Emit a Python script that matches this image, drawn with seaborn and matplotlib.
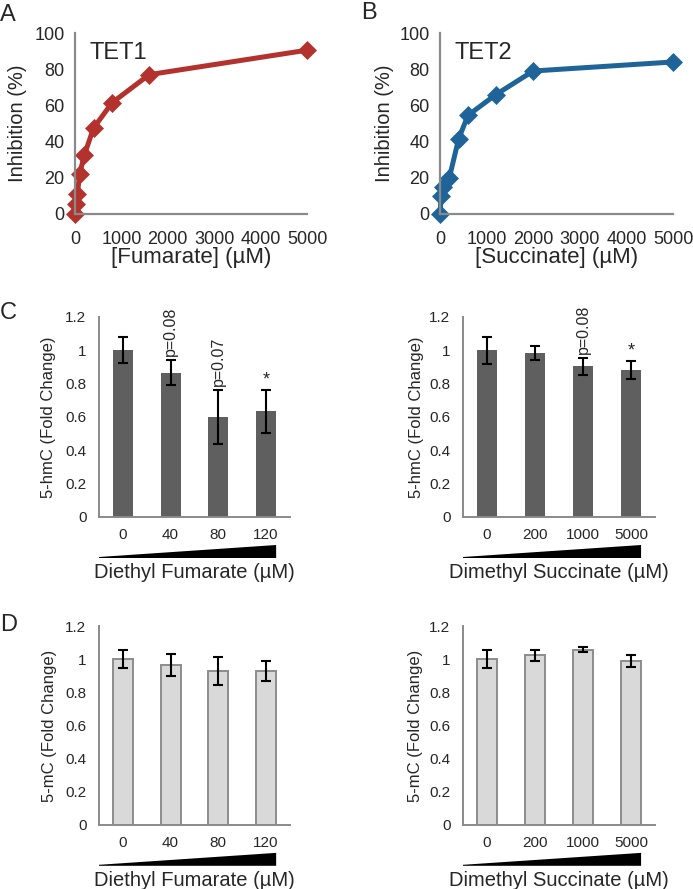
import numpy as np
import pandas as pd
import matplotlib
matplotlib.use("Agg")
import matplotlib.pyplot as plt
import seaborn as sns
from matplotlib.transforms import blended_transform_factory

# ---------------- data ----------------
fumarate_conc = [0, 25, 50, 100, 200, 400, 800, 1600, 5000]
tet1_inhibition = [0, 5.5, 11, 22, 32.5, 47.5, 61.5, 77, 90.5]
succinate_conc = [0, 25, 75, 200, 400, 600, 1200, 2000, 5000]
tet2_inhibition = [0, 10, 15, 20, 41.5, 54.5, 66, 79, 84]

curve_xticks = [0, 1000, 2000, 3000, 4000, 5000]
curve_yticks = [0, 20, 40, 60, 80, 100]

fum_doses = ["0", "40", "80", "120"]
suc_doses = ["0", "200", "1000", "5000"]

c_fum_mean = [1.0, 0.866, 0.598, 0.634]
c_fum_err = [0.078, 0.076, 0.162, 0.129]
c_fum_notes = ["", "p=0.08", "p=0.07", "*"]

c_suc_mean = [1.0, 0.984, 0.904, 0.880]
c_suc_err = [0.080, 0.040, 0.050, 0.054]
c_suc_notes = ["", "", "p=0.08", "*"]

d_fum_mean = [1.0, 0.964, 0.928, 0.928]
d_fum_err = [0.055, 0.067, 0.085, 0.062]

d_suc_mean = [1.0, 1.024, 1.058, 0.990]
d_suc_err = [0.055, 0.034, 0.013, 0.036]

bar_yticks = [0, 0.2, 0.4, 0.6, 0.8, 1.0, 1.2]
bar_yticklabels = ["0", "0.2", "0.4", "0.6", "0.8", "1", "1.2"]

# ---------------- style ----------------
sns.set_style("white")
plt.rcParams["font.family"] = ["Liberation Sans", "DejaVu Sans"]

W, H = 693, 889
fig = plt.figure(figsize=(W / 100, H / 100), dpi=100)
AX_GRAY = "#8a8a8a"


def px_axes(left, top, right, bottom):
    return fig.add_axes([left / W, 1 - bottom / H, (right - left) / W, (bottom - top) / H])


def curve_panel(ax, x, y, color, xlabel, name, ylab_x):
    sns.lineplot(x=x, y=y, ax=ax, color=color, linewidth=3.6, marker="D",
                 markersize=9.5, markeredgecolor=color, markeredgewidth=0.5,
                 estimator=None, sort=False, clip_on=False)
    ax.set_xlim(0, 5000)
    ax.set_ylim(0, 100)
    ax.set_xticks(curve_xticks)
    ax.set_yticks(curve_yticks)
    for s in ["top", "right"]:
        ax.spines[s].set_visible(False)
    for s in ["left", "bottom"]:
        ax.spines[s].set_color(AX_GRAY)
        ax.spines[s].set_linewidth(1.6)
    ax.tick_params(direction="inout", length=9, width=1.6, color=AX_GRAY,
                   labelsize=13, pad=3)
    ax.tick_params(axis="x", pad=8)
    ax.set_xlabel(xlabel, fontsize=16)
    ax.set_ylabel("Inhibition (%)", fontsize=14.5)
    ax.xaxis.set_label_coords(0.5, -0.24)
    ax.xaxis.label.set_va("center")
    ax.yaxis.set_label_coords(ylab_x, 0.5)
    ax.yaxis.label.set_va("center")
    ax.text(320, 89, name, fontsize=17, ha="left", va="center")


def bar_panel(ax, cats, means, errs, notes, fc, ec, lw, ylabel, xlabel, ylab_x):
    df = pd.DataFrame({"dose": cats, "value": means})
    sns.barplot(data=df, x="dose", y="value", order=cats, color=fc, saturation=1,
                width=0.42, edgecolor=ec, linewidth=lw, errorbar=None, ax=ax)
    xs = np.arange(len(cats))
    ax.errorbar(xs, means, yerr=errs, fmt="none", ecolor="black",
                elinewidth=1.5, capsize=3.8, capthick=1.5, zorder=5)
    ax.set_xlim(-0.5, len(cats) - 0.5)
    ax.set_ylim(0, 1.2)
    ax.set_yticks(bar_yticks)
    ax.set_yticklabels(bar_yticklabels)
    ax.set_xticks(xs)
    ax.set_xticks(np.arange(len(cats) + 1) - 0.5, minor=True)
    for s in ["top", "right"]:
        ax.spines[s].set_visible(False)
    for s in ["left", "bottom"]:
        ax.spines[s].set_color(AX_GRAY)
        ax.spines[s].set_linewidth(1.4)
    ax.tick_params(axis="y", direction="out", length=4, width=1.4, color=AX_GRAY,
                   labelsize=11, pad=5)
    ax.tick_params(axis="x", which="major", length=0, labelsize=11, pad=8)
    ax.tick_params(axis="x", which="minor", direction="out", length=4, width=1.4,
                   color=AX_GRAY)
    ax.set_xlabel(xlabel, fontsize=14.5)
    ax.set_ylabel(ylabel, fontsize=12)
    ax.xaxis.set_label_coords(0.5, -0.278)
    ax.xaxis.label.set_va("center")
    ax.yaxis.set_label_coords(ylab_x, 0.5)
    ax.yaxis.label.set_va("center")
    # dose wedge
    trans = blended_transform_factory(ax.transData, ax.transAxes)
    right = len(cats) - 1 + 0.21
    ax.fill([-0.5, right, right, -0.5], [-0.205, -0.205, -0.14, -0.2],
            color="black", transform=trans, clip_on=False, lw=0)
    for i, note in enumerate(notes):
        if not note:
            continue
        top = means[i] + errs[i]
        if note == "*":
            ax.text(i, top + 0.01, note, ha="center", va="bottom", fontsize=13,
                    clip_on=False)
        else:
            ax.text(i, top + 0.025, note, ha="center", va="bottom", rotation=90,
                    fontsize=11.5, clip_on=False)


axA = px_axes(75, 33, 307, 214)
curve_panel(axA, fumarate_conc, tet1_inhibition, "#b3322d", "[Fumarate] (\u00b5M)", "TET1", -0.246)
axB = px_axes(440, 33, 673, 214)
curve_panel(axB, succinate_conc, tet2_inhibition, "#1f6499", "[Succinate] (\u00b5M)", "TET2", -0.24)

dark = "#5f5f5f"
light = "#d9d9d9"
axC1 = px_axes(99, 317, 290, 517)
bar_panel(axC1, fum_doses, c_fum_mean, c_fum_err, c_fum_notes, dark, dark, 0,
          "5-hmC (Fold Change)", "Diethyl Fumarate (\u00b5M)", -0.267)
axC2 = px_axes(463, 317, 655, 517)
bar_panel(axC2, suc_doses, c_suc_mean, c_suc_err, c_suc_notes, dark, dark, 0,
          "5-hmC (Fold Change)", "Dimethyl Succinate (\u00b5M)", -0.24)
axD1 = px_axes(99, 626, 290, 825)
bar_panel(axD1, fum_doses, d_fum_mean, d_fum_err, ["", "", "", ""], light, "#8c8c8c", 1.4,
          "5-mC (Fold Change)", "Diethyl Fumarate (\u00b5M)", -0.257)
axD2 = px_axes(463, 626, 655, 825)
bar_panel(axD2, suc_doses, d_suc_mean, d_suc_err, ["", "", "", ""], light, "#8c8c8c", 1.4,
          "5-mC (Fold Change)", "Dimethyl Succinate (\u00b5M)", -0.245)

for lab, x, y in [("A", 0, 4), ("B", 361, 2), ("C", 0, 302), ("D", 0, 614)]:
    fig.text(x / W, 1 - y / H, lab, fontsize=17, ha="left", va="top")

fig.savefig("out.png", dpi=100)
